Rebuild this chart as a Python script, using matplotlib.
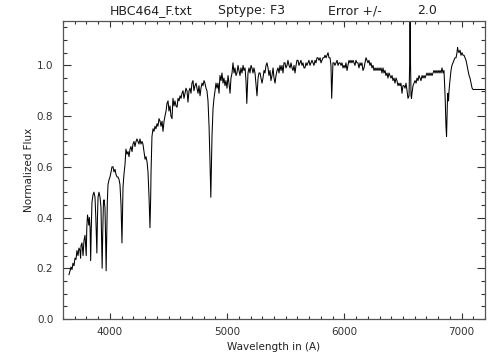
import matplotlib
matplotlib.use("Agg")
import matplotlib.pyplot as plt
from matplotlib.ticker import MultipleLocator

# spectrum (wavelength in A, normalized flux)
wave = [
    3651, 3660, 3668, 3677, 3685, 3694, 3702, 3711, 3719, 3728,
    3736, 3745, 3750, 3754, 3762, 3771, 3779, 3788, 3798, 3803,
    3809, 3813, 3820, 3826, 3831, 3836, 3841, 3847, 3856, 3864,
    3873, 3880, 3889, 3894, 3899, 3907, 3916, 3924, 3929, 3934,
    3939, 3945, 3950, 3958, 3963, 3968, 3973, 3978, 3984, 3993,
    4001, 4010, 4018, 4027, 4035, 4044, 4052, 4061, 4069, 4078,
    4086, 4095, 4103, 4108, 4112, 4120, 4129, 4137, 4146, 4155,
    4163, 4172, 4180, 4189, 4197, 4206, 4214, 4223, 4231, 4240,
    4248, 4257, 4265, 4274, 4282, 4291, 4300, 4308, 4317, 4325,
    4334, 4342, 4348, 4351, 4359, 4368, 4376, 4385, 4393, 4402,
    4410, 4419, 4428, 4436, 4445, 4453, 4462, 4470, 4479, 4487,
    4496, 4504, 4513, 4521, 4530, 4538, 4547, 4555, 4564, 4573,
    4581, 4590, 4598, 4607, 4615, 4624, 4632, 4641, 4649, 4658,
    4666, 4675, 4683, 4692, 4700, 4709, 4717, 4726, 4735, 4743,
    4752, 4760, 4769, 4777, 4786, 4794, 4803, 4811, 4820, 4828,
    4837, 4846, 4854, 4861, 4866, 4871, 4880, 4888, 4897, 4905,
    4914, 4922, 4931, 4939, 4948, 4956, 4965, 4973, 4982, 4990,
    4999, 5008, 5016, 5025, 5033, 5042, 5050, 5059, 5067, 5076,
    5084, 5093, 5101, 5110, 5118, 5127, 5136, 5144, 5153, 5161,
    5168, 5175, 5178, 5187, 5195, 5204, 5212, 5221, 5229, 5238,
    5247, 5255, 5264, 5272, 5281, 5289, 5298, 5306, 5315, 5323,
    5332, 5340, 5349, 5357, 5366, 5374, 5383, 5392, 5400, 5409,
    5417, 5426, 5434, 5443, 5451, 5460, 5468, 5477, 5485, 5494,
    5502, 5511, 5519, 5528, 5537, 5545, 5554, 5562, 5571, 5579,
    5588, 5596, 5605, 5613, 5622, 5630, 5639, 5647, 5656, 5664,
    5673, 5681, 5690, 5698, 5707, 5715, 5724, 5732, 5741, 5750,
    5758, 5767, 5775, 5784, 5793, 5801, 5810, 5818, 5827, 5835,
    5844, 5852, 5861, 5869, 5878, 5886, 5892, 5898, 5903, 5912,
    5920, 5929, 5938, 5946, 5955, 5963, 5972, 5980, 5989, 5997,
    6006, 6014, 6023, 6031, 6040, 6048, 6057, 6065, 6074, 6082,
    6091, 6099, 6108, 6116, 6125, 6134, 6142, 6150, 6159, 6168,
    6176, 6185, 6193, 6202, 6210, 6219, 6227, 6236, 6245, 6253,
    6262, 6270, 6279, 6287, 6296, 6304, 6313, 6321, 6330, 6338,
    6347, 6355, 6364, 6372, 6381, 6390, 6398, 6407, 6415, 6424,
    6432, 6441, 6449, 6458, 6466, 6475, 6483, 6492, 6500, 6509,
    6518, 6526, 6535, 6543, 6552, 6557, 6561, 6565, 6569, 6573,
    6577, 6586, 6594, 6603, 6612, 6620, 6629, 6637, 6646, 6654,
    6663, 6671, 6680, 6688, 6697, 6705, 6714, 6722, 6731, 6739,
    6748, 6756, 6765, 6774, 6782, 6791, 6800, 6808, 6816, 6825,
    6833, 6842, 6850, 6855, 6861, 6867, 6872, 6876, 6880, 6884,
    6889, 6893, 6901, 6910, 6918, 6927, 6936, 6944, 6953, 6961,
    6966, 6970, 6978, 6987, 6995, 7004, 7012, 7021, 7030, 7038,
    7047, 7055, 7064, 7072, 7081, 7090, 7098, 7200,
]
flux = [
    0.175, 0.19, 0.205, 0.195, 0.22, 0.21, 0.24, 0.235, 0.27, 0.25,
    0.28, 0.27, 0.24, 0.29, 0.30, 0.25, 0.31, 0.33, 0.25, 0.36,
    0.41, 0.40, 0.37, 0.40, 0.36, 0.23, 0.35, 0.46, 0.49, 0.50,
    0.48, 0.40, 0.26, 0.40, 0.48, 0.50, 0.48, 0.44, 0.33, 0.20,
    0.34, 0.46, 0.47, 0.44, 0.33, 0.19, 0.32, 0.46, 0.53, 0.55,
    0.56, 0.58, 0.60, 0.60, 0.58, 0.59, 0.57, 0.56, 0.56, 0.55,
    0.53, 0.45, 0.30, 0.42, 0.52, 0.57, 0.61, 0.67, 0.65, 0.66,
    0.64, 0.67, 0.68, 0.66, 0.69, 0.70, 0.68, 0.70, 0.71, 0.70,
    0.69, 0.71, 0.69, 0.70, 0.69, 0.66, 0.63, 0.64, 0.62, 0.58,
    0.48, 0.36, 0.48, 0.58, 0.72, 0.75, 0.74, 0.76, 0.75, 0.77,
    0.76, 0.79, 0.78, 0.76, 0.78, 0.74, 0.78, 0.80, 0.82, 0.85,
    0.86, 0.82, 0.84, 0.80, 0.79, 0.87, 0.84, 0.86, 0.84, 0.835,
    0.87, 0.86, 0.88, 0.87, 0.89, 0.90, 0.87, 0.89, 0.91, 0.90,
    0.855, 0.90, 0.91, 0.89, 0.93, 0.94, 0.90, 0.92, 0.93, 0.91,
    0.89, 0.92, 0.88, 0.91, 0.93, 0.92, 0.94, 0.93, 0.91, 0.90,
    0.86, 0.76, 0.62, 0.48, 0.60, 0.72, 0.83, 0.87, 0.90, 0.93,
    0.91, 0.93, 0.89, 0.96, 0.94, 0.97, 0.93, 0.95, 0.92, 0.94,
    0.91, 0.96, 0.93, 0.89, 0.95, 0.97, 1.01, 0.97, 0.99, 0.96,
    0.97, 1.00, 0.98, 0.96, 0.99, 0.97, 1.00, 0.98, 0.99, 0.94,
    0.85, 0.94, 0.97, 0.99, 0.97, 1.00, 0.99, 0.97, 0.99, 0.97,
    0.92, 0.88, 0.95, 0.97, 0.97, 0.95, 0.93, 0.95, 0.98, 0.97,
    1.00, 1.01, 0.99, 0.96, 0.98, 0.94, 0.96, 0.99, 0.95, 0.93,
    0.96, 0.98, 0.99, 0.97, 1.00, 0.98, 1.00, 0.97, 1.01, 1.01,
    0.99, 1.00, 1.02, 1.00, 0.99, 1.01, 0.99, 0.98, 1.00, 0.97,
    1.00, 1.02, 1.02, 1.00, 1.01, 1.02, 1.00, 1.01, 0.99, 0.99,
    1.01, 1.00, 1.01, 1.02, 1.00, 1.01, 1.02, 1.01, 1.00, 1.02,
    1.01, 1.03, 1.03, 1.02, 1.03, 1.01, 1.02, 1.03, 1.03, 1.04,
    1.03, 1.04, 1.05, 1.03, 1.03, 1.00, 0.87, 0.95, 1.01, 1.01,
    1.00, 1.01, 1.02, 1.00, 1.01, 1.01, 1.00, 1.01, 0.99, 1.00,
    0.99, 1.01, 0.98, 1.00, 1.02, 1.01, 1.02, 1.01, 1.02, 1.01,
    1.00, 1.02, 1.01, 1.01, 0.99, 1.01, 1.00, 1.01, 0.98, 0.99,
    1.01, 1.03, 1.02, 1.01, 1.02, 1.00, 1.01, 0.99, 1.00, 0.98,
    0.99, 0.98, 0.99, 0.98, 0.99, 0.98, 0.99, 0.97, 0.99, 0.97,
    0.98, 0.96, 0.97, 0.95, 0.97, 0.96, 0.95, 0.96, 0.94, 0.95,
    0.93, 0.95, 0.94, 0.92, 0.93, 0.92, 0.93, 0.89, 0.92, 0.92,
    0.91, 0.93, 0.90, 0.87, 0.88, 1.00, 1.30, 1.00, 0.88, 0.87,
    0.89, 0.92, 0.93, 0.94, 0.93, 0.95, 0.94, 0.96, 0.95, 0.94,
    0.96, 0.95, 0.96, 0.95, 0.96, 0.97, 0.96, 0.97, 0.96, 0.97,
    0.96, 0.97, 0.98, 0.97, 0.98, 0.97, 0.98, 0.97, 0.98, 0.97,
    0.99, 0.97, 0.98, 0.93, 0.86, 0.76, 0.72, 0.80, 0.87, 0.89,
    0.86, 0.90, 0.94, 0.98, 1.00, 1.01, 1.02, 1.03, 1.03, 1.05,
    1.07, 1.06, 1.05, 1.06, 1.04, 1.05, 1.04, 1.04, 1.03, 1.02,
    1.00, 0.98, 0.96, 0.95, 0.93, 0.91, 0.905, 0.905,
]

title_parts = ["HBC464_F.txt", "Sptype: F3", "Error +/-", "2.0"]
title_x_px = [110, 218, 328, 417]

W, H = 504, 360
fig = plt.figure(figsize=(W / 100, H / 100), dpi=100)
ax = fig.add_axes([63 / W, 1 - 319 / H, (485 - 63) / W, (319 - 21) / H])

ax.plot(wave, flux, color="black", lw=0.75)

ax.set_xlim(3600, 7200)
ax.set_ylim(0.0, 1.175)
ax.xaxis.set_major_locator(MultipleLocator(1000))
ax.xaxis.set_minor_locator(MultipleLocator(100))
ax.yaxis.set_major_locator(MultipleLocator(0.2))
ax.yaxis.set_minor_locator(MultipleLocator(0.05))
ax.yaxis.set_major_formatter(plt.FormatStrFormatter("%.1f"))

ax.tick_params(which="both", direction="in", top=True, right=True,
               labelsize=7.5, colors="#333333", width=0.8)
ax.tick_params(axis="x", which="major", length=4.3, pad=6)
ax.tick_params(axis="x", which="minor", length=2.2)
ax.tick_params(axis="y", which="major", length=5.8, pad=7)
ax.tick_params(axis="y", which="minor", length=2.9)
for s in ax.spines.values():
    s.set_linewidth(0.9)
    s.set_color("#555555")

ax.set_xlabel("Wavelength in (A)", fontsize=7.5, labelpad=3, color="#222222")
ax.set_ylabel("Normalized Flux", fontsize=7.5, labelpad=2, color="#222222")

for txt, xp in zip(title_parts, title_x_px):
    fig.text(xp / W, 1 - 14 / H, txt, fontsize=9, ha="left",
             va="baseline", color="#222222")

fig.savefig("out.png", dpi=100)
